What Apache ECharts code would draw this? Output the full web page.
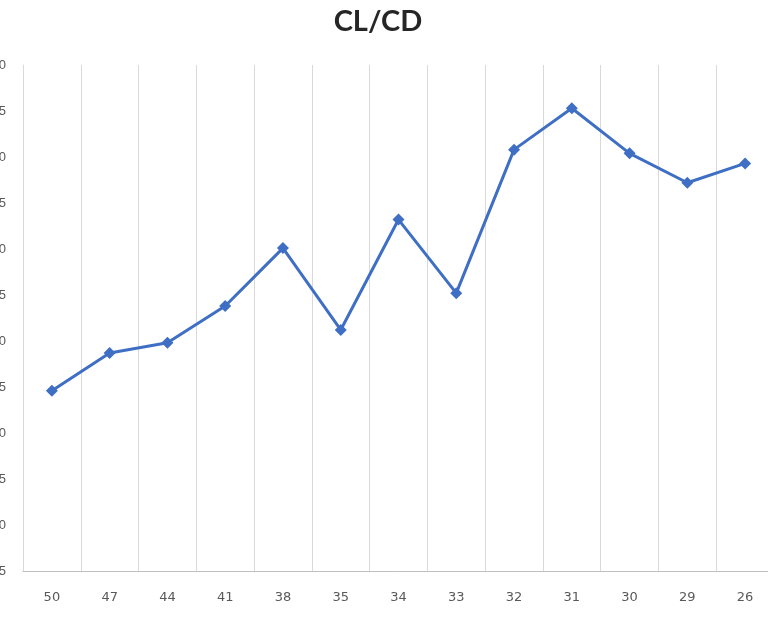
<!DOCTYPE html>
<html>
<head>
<meta charset="utf-8">
<script src="https://cdn.jsdelivr.net/npm/echarts@6/dist/echarts.min.js"></script>
<style>
  html, body { margin: 0; padding: 0; background: #fff; }
  #chart { width: 768px; height: 619px; }
</style>
</head>
<body>
<div id="chart"></div>
<script>
// x categories and CL/CD values
const categories = ['50', '47', '44', '41', '38', '35', '34', '33', '32', '31', '30', '29', '26'];
const clcd = [0.846, 0.887, 0.898, 0.938, 1.001, 0.912, 1.032, 0.952, 1.108, 1.153, 1.104, 1.072, 1.093];
const yMin = 0.65;
const yMax = 1.20;
const yStep = 0.05;

const chart = echarts.init(document.getElementById('chart'));
chart.setOption({
    animation: false,
    title: {
        text: 'CL/CD',
        left: 373,
        top: 2,
        textAlign: 'center',
        textStyle: {
            fontFamily: 'Lato',
            fontSize: 29,
            fontWeight: 'bold',
            color: '#262626'
        }
    },
    grid: {
        left: 23,
        top: 65,
        width: 751,
        bottom: 48,
        containLabel: false,
        outerBoundsMode: 'none'
    },
    xAxis: {
        type: 'category',
        data: categories,
        boundaryGap: true,
        axisTick: { show: false },
        axisLine: { lineStyle: { color: '#bfbfbf', width: 1 } },
        splitLine: { show: true, lineStyle: { color: '#d9d9d9', width: 1 } },
        axisLabel: {
            color: '#595959',
            fontFamily: 'DejaVu Sans',
            fontSize: 13,
            margin: 20
        }
    },
    yAxis: {
        type: 'value',
        min: yMin,
        max: yMax,
        interval: yStep,
        axisLine: { show: true, lineStyle: { color: '#d9d9d9' } },
        axisTick: { show: false },
        splitLine: { show: false },
        axisLabel: {
            color: '#595959',
            fontSize: 13,
            margin: 17,
            formatter: v => v.toFixed(2)
        }
    },
    series: [{
        type: 'line',
        data: clcd,
        symbol: 'diamond',
        symbolSize: 12,
        lineStyle: { color: '#3f6fc4', width: 3 },
        itemStyle: { color: '#3f6fc4' }
    }]
});
</script>
</body>
</html>
